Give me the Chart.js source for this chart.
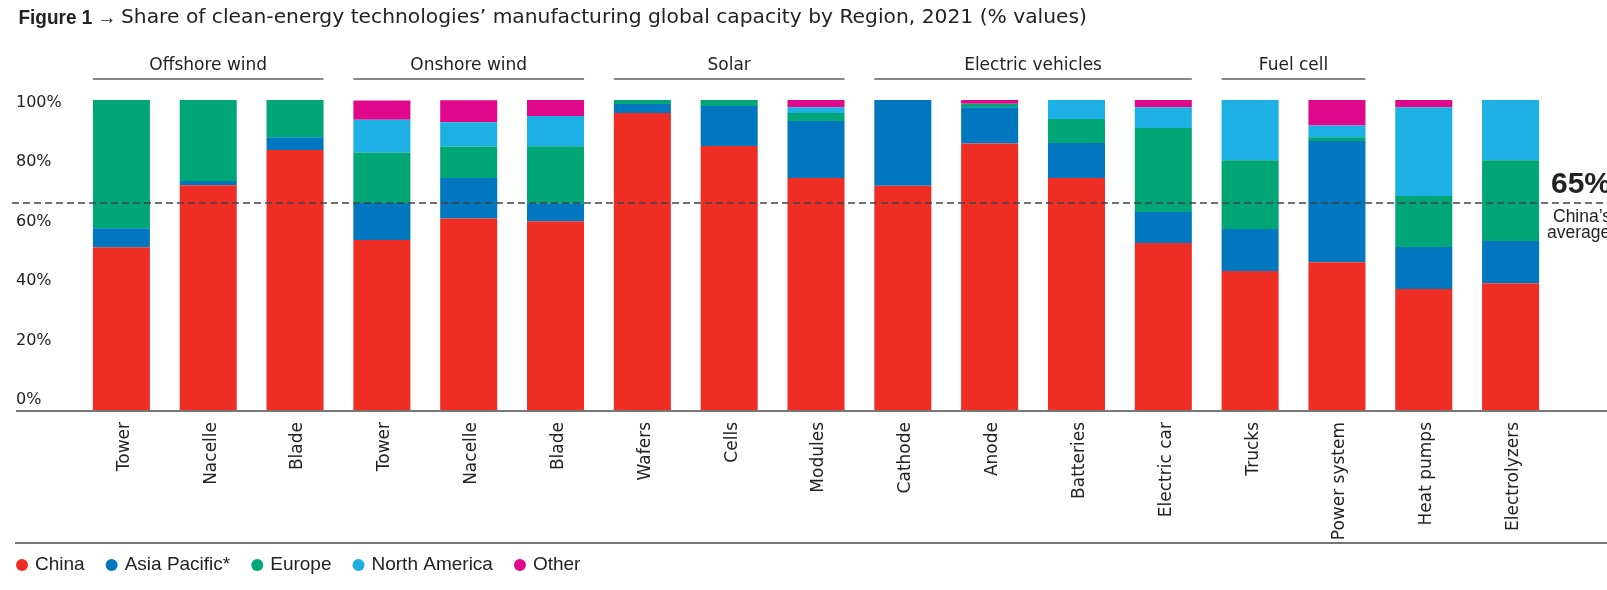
<!DOCTYPE html>
<html>
<head>
<meta charset="utf-8">
<script src="https://cdn.jsdelivr.net/npm/chart.js@4.4.0/dist/chart.umd.min.js"></script>
<style>
  body { margin: 0; background: #ffffff; }
  #wrap { position: relative; width: 1607px; height: 590px; }
</style>
</head>
<body>
<div id="wrap"><canvas id="capacidade"></canvas></div>
<script>
// Categories (x axis) and the header groups above them
const categories = ['Tower', 'Nacelle', 'Blade', 'Tower', 'Nacelle', 'Blade', 'Wafers', 'Cells', 'Modules',
  'Cathode', 'Anode', 'Batteries', 'Electric car', 'Trucks', 'Power system', 'Heat pumps', 'Electrolyzers'];
const groupNames = ['Offshore wind', 'Onshore wind', 'Solar', 'Electric vehicles', 'Fuel cell'];
const groupFirst = [0, 3, 6, 9, 13];
const groupLast = [2, 5, 8, 12, 14];

// Share of capacity by region (%)
const china =        [52.5, 72.5, 83.9, 54.8, 61.8, 60.9, 95.8, 85.2, 74.8, 72.3, 86.0, 74.8, 53.9, 44.8, 47.7, 39.0, 40.9];
const asiaPacific =  [6.1, 1.4, 4.1, 12.0, 13.0, 5.8, 2.9, 12.9, 18.4, 27.7, 11.7, 11.3, 10.0, 13.6, 39.1, 13.6, 13.6];
const europe =       [41.4, 26.1, 12.0, 16.3, 10.2, 18.4, 1.3, 1.9, 2.6, 0, 1.1, 7.8, 27.1, 22.2, 1.2, 16.4, 26.1];
const northAmerica = [0, 0, 0, 10.5, 7.8, 9.7, 0, 0, 1.9, 0, 0, 6.1, 6.7, 19.4, 3.8, 28.7, 19.4];
const other =        [0, 0, 0, 6.2, 7.1, 5.3, 0, 0, 2.3, 0, 1.2, 0, 2.3, 0, 8.2, 2.3, 0];

const regionNames = ['China', 'Asia Pacific*', 'Europe', 'North America', 'Other'];
const regionColors = ['#ee2e24', '#0077be', '#00a676', '#1cb0e4', '#e0088a'];

const yTickLabels = ['0%', '20%', '40%', '60%', '80%', '100%'];

// China's average line (drawn position) and its label
const chinaAvgLine = 66.8;
const chinaAvgText = '65%';

const textColor = '#222222';

// draws a text squeezed/stretched to a given width
function fitText(ctx, text, x, y, width) {
  const w = ctx.measureText(text).width;
  ctx.save();
  ctx.translate(x, y);
  ctx.scale(width / w, 1);
  ctx.fillText(text, 0, 0);
  ctx.restore();
}

// Title, group headers, baseline, average line and legend
const extras = {
  id: 'extras',
  beforeDraw(chart) {
    const ctx = chart.ctx;
    ctx.save();
    ctx.fillStyle = textColor;
    ctx.textBaseline = 'middle';
    ctx.textAlign = 'left';
    ctx.font = 'bold 20.5px "Liberation Sans"';
    fitText(ctx, 'Figure 1 \u2192', 18.5, 18, 98);
    ctx.font = '19px "DejaVu Sans"';
    fitText(ctx, 'Share of clean-energy technologies\u2019 manufacturing global capacity by Region, 2021 (% values)', 121, 18, 966);
    ctx.restore();
  },
  afterDatasetsDraw(chart) {
    const ctx = chart.ctx;
    const y = chart.scales.y;
    const bars = chart.getDatasetMeta(0).data;
    ctx.save();

    // group headers
    ctx.font = '17px "DejaVu Sans"';
    ctx.textAlign = 'center';
    ctx.textBaseline = 'middle';
    ctx.fillStyle = textColor;
    ctx.strokeStyle = '#888888';
    ctx.lineWidth = 2;
    for (let i = 0; i < groupNames.length; i++) {
      const x0 = bars[groupFirst[i]].x - bars[groupFirst[i]].width / 2;
      const x1 = bars[groupLast[i]].x + bars[groupLast[i]].width / 2;
      ctx.fillText(groupNames[i], (x0 + x1) / 2, 66);
      ctx.beginPath();
      ctx.moveTo(x0, 79);
      ctx.lineTo(x1, 79);
      ctx.stroke();
    }

    // baseline
    const y0 = y.getPixelForValue(0);
    ctx.strokeStyle = '#777777';
    ctx.beginPath();
    ctx.moveTo(16, y0 + 1);
    ctx.lineTo(chart.width, y0 + 1);
    ctx.stroke();

    // separator above legend
    ctx.beginPath();
    ctx.moveTo(15, 543);
    ctx.lineTo(chart.width, 543);
    ctx.stroke();

    // China's average
    const ya = y.getPixelForValue(chinaAvgLine);
    ctx.strokeStyle = '#444444';
    ctx.lineWidth = 1.5;
    ctx.setLineDash([7, 4]);
    ctx.beginPath();
    ctx.moveTo(12, ya);
    ctx.lineTo(chart.width, ya);
    ctx.stroke();
    ctx.setLineDash([]);

    ctx.textAlign = 'left';
    ctx.font = 'bold 30px "Liberation Sans"';
    ctx.fillText(chinaAvgText, 1551, ya - 18);
    ctx.font = '17.5px "Liberation Sans"';
    ctx.fillText('China\u2019s', 1553, ya + 14);
    ctx.fillText('average', 1547, ya + 30);

    // legend
    ctx.font = '19px "Liberation Sans"';
    let lx = 22;
    for (let i = 0; i < regionNames.length; i++) {
      ctx.fillStyle = regionColors[i];
      ctx.beginPath();
      ctx.arc(lx, 565, 6, 0, Math.PI * 2);
      ctx.fill();
      ctx.fillStyle = textColor;
      ctx.fillText(regionNames[i], lx + 13, 565);
      lx += 13 + ctx.measureText(regionNames[i]).width + 27;
    }
    ctx.restore();
  }
};

const seriesData = [china, asiaPacific, europe, northAmerica, other];

const ctx = document.getElementById('capacidade');

new Chart(ctx, {
  type: 'bar',
  data: {
    labels: categories,
    datasets: seriesData.map((d, i) => ({
      label: regionNames[i],
      data: d,
      backgroundColor: regionColors[i],
      borderWidth: 0,
      categoryPercentage: 1,
      barPercentage: 0.657
    }))
  },
  options: {
    responsive: true,
    maintainAspectRatio: false,
    animation: false,
    layout: { padding: { left: 16, right: 53, top: 100, bottom: 0 } },
    scales: {
      x: {
        stacked: true,
        grid: { display: false, drawTicks: false },
        border: { display: false },
        ticks: {
          autoSkip: false,
          minRotation: 90,
          maxRotation: 90,
          padding: 12,
          labelOffset: 3,
          color: textColor,
          font: { family: 'DejaVu Sans', size: 17 }
        },
        afterFit(scale) { scale.height = 180; }
      },
      y: {
        stacked: true,
        min: 0,
        max: 100,
        grid: { display: false, drawTicks: false },
        border: { display: false },
        afterBuildTicks(scale) {
          // labels in the source sit slightly compressed towards the top
          scale.ticks = yTickLabels.map((t, i) => ({ value: 3.2 + i * 20 * 0.96 }));
        },
        ticks: {
          crossAlign: 'far',
          color: textColor,
          font: { family: 'DejaVu Sans', size: 16 },
          callback: (v, i) => yTickLabels[i]
        },
        afterFit(scale) { scale.width = 62; }
      }
    },
    plugins: {
      legend: { display: false },
      tooltip: { enabled: false }
    }
  },
  plugins: [extras]
});
</script>
</body>
</html>
